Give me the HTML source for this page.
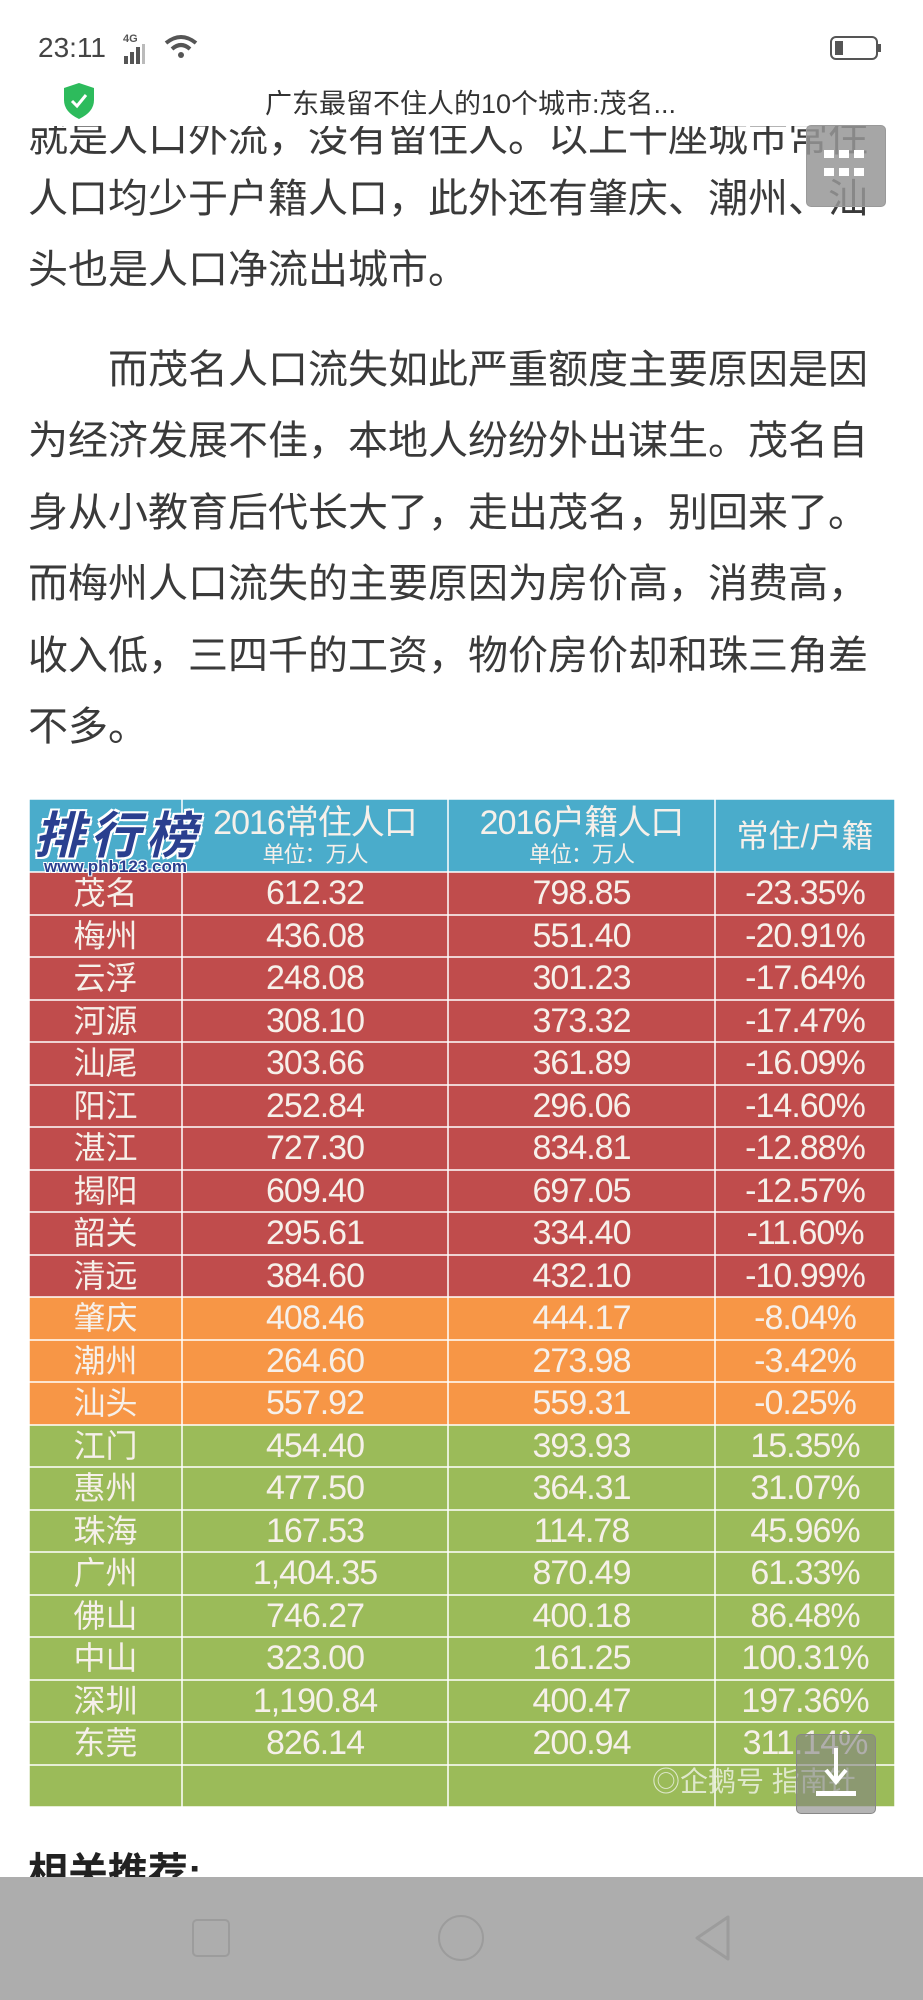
<!DOCTYPE html>
<html><head><meta charset="utf-8"><style>
*{margin:0;padding:0;box-sizing:border-box}
body{width:923px;height:2000px;background:#fff;position:relative;overflow:hidden;font-family:"Liberation Sans","Noto Sans CJK SC",sans-serif}
.a{position:absolute;white-space:nowrap}
.p{left:28px;font-size:40px;color:#3a3a3a;line-height:72px;height:72px}
table{position:absolute;left:28px;top:798px;width:866px;border-collapse:collapse;table-layout:fixed}
td{border:2px solid rgba(255,255,255,0.75);color:#f6f0ea;text-align:center;font-size:34px;height:42.5px;padding:0;line-height:40px;font-family:"Liberation Sans","Noto Sans CJK SC",sans-serif;letter-spacing:-1px}
td.c{font-size:32px;letter-spacing:0}
tr.h td{background:#4aaccb;height:73px;line-height:30px}
tr.r td{background:#c04c4c}
tr.o td{background:#f79646}
tr.g td{background:#9bbb59}
</style></head><body>
<!-- paragraph text (behind header) -->
<div class="a p" style="top:102px">就是人口外流，没有留住人。以上十座城市常住</div>
<div class="a p" style="top:163px">人口均少于户籍人口，此外还有肇庆、潮州、汕</div>
<div class="a p" style="top:234px">头也是人口净流出城市。</div>
<div class="a p" style="top:334px;left:108px">而茂名人口流失如此严重额度主要原因是因</div>
<div class="a p" style="top:405px">为经济发展不佳，本地人纷纷外出谋生。茂名自</div>
<div class="a p" style="top:477px">身从小教育后代长大了，走出茂名，别回来了。</div>
<div class="a p" style="top:548px">而梅州人口流失的主要原因为房价高，消费高，</div>
<div class="a p" style="top:620px">收入低，三四千的工资，物价房价却和珠三角差</div>
<div class="a p" style="top:691px">不多。</div>
<!-- header -->
<div class="a" style="left:0;top:0;width:923px;height:126px;background:#fff"></div>
<div class="a" style="left:38px;top:32px;font-size:28px;color:#444">23:11</div>
<div class="a" style="left:123px;top:33px;font-size:11px;color:#555;font-weight:bold">4G</div>
<svg class="a" style="left:122px;top:44px" width="36" height="22"><rect x="2" y="12" width="4" height="8" fill="#555"/><rect x="8" y="8" width="4" height="12" fill="#555"/><rect x="14" y="3" width="4" height="17" fill="#555"/><rect x="20" y="0" width="3" height="20" fill="#bbb"/></svg>
<svg class="a" style="left:164px;top:34px" width="34" height="26"><path d="M2 9 Q17 -3 32 9" stroke="#555" stroke-width="4" fill="none"/><path d="M8 15 Q17 7 26 15" stroke="#555" stroke-width="4" fill="none"/><circle cx="17" cy="21" r="3" fill="#555"/></svg>
<svg class="a" style="left:830px;top:36px" width="52" height="24"><rect x="1" y="1" width="46" height="22" rx="5" fill="none" stroke="#555" stroke-width="2"/><rect x="5" y="5" width="8" height="14" fill="#555"/><rect x="48" y="8" width="3" height="8" fill="#555"/></svg>
<svg class="a" style="left:62px;top:82px" width="34" height="38"><path d="M17 1 L32 6 L32 18 Q32 30 17 37 Q2 30 2 18 L2 6 Z" fill="#2dbb5c"/><path d="M10 19 L15 24 L24 13" stroke="#fff" stroke-width="3" fill="none"/></svg>
<div class="a" style="left:265px;top:82px;font-size:27px;color:#333">广东最留不住人的10个城市:茂名...</div>
<!-- float button -->
<div class="a" style="left:806px;top:125px;width:80px;height:82px;background:rgba(150,150,150,0.85);border-radius:5px;border:1px solid #999"></div>
<svg class="a" style="left:824px;top:150px" width="44" height="32"><g fill="#fff"><rect x="0" y="0" width="10" height="8"/><rect x="15" y="0" width="10" height="8"/><rect x="30" y="0" width="10" height="8"/><rect x="0" y="18" width="10" height="8"/><rect x="15" y="18" width="10" height="8"/><rect x="30" y="18" width="10" height="8"/></g></svg>
<!-- table -->
<table>
<colgroup><col style="width:153px"><col style="width:266px"><col style="width:267px"><col style="width:180px"></colgroup>
<tr class="h"><td></td><td><div style="font-size:34px;line-height:38px">2016常住人口</div><div style="font-size:22px;line-height:26px">单位：万人</div></td><td><div style="font-size:34px;line-height:38px">2016户籍人口</div><div style="font-size:22px;line-height:26px">单位：万人</div></td><td style="font-size:32px;letter-spacing:0">常住/户籍</td></tr>
<tr class="r"><td class="c">茂名</td><td>612.32</td><td>798.85</td><td>-23.35%</td></tr>
<tr class="r"><td class="c">梅州</td><td>436.08</td><td>551.40</td><td>-20.91%</td></tr>
<tr class="r"><td class="c">云浮</td><td>248.08</td><td>301.23</td><td>-17.64%</td></tr>
<tr class="r"><td class="c">河源</td><td>308.10</td><td>373.32</td><td>-17.47%</td></tr>
<tr class="r"><td class="c">汕尾</td><td>303.66</td><td>361.89</td><td>-16.09%</td></tr>
<tr class="r"><td class="c">阳江</td><td>252.84</td><td>296.06</td><td>-14.60%</td></tr>
<tr class="r"><td class="c">湛江</td><td>727.30</td><td>834.81</td><td>-12.88%</td></tr>
<tr class="r"><td class="c">揭阳</td><td>609.40</td><td>697.05</td><td>-12.57%</td></tr>
<tr class="r"><td class="c">韶关</td><td>295.61</td><td>334.40</td><td>-11.60%</td></tr>
<tr class="r"><td class="c">清远</td><td>384.60</td><td>432.10</td><td>-10.99%</td></tr>
<tr class="o"><td class="c">肇庆</td><td>408.46</td><td>444.17</td><td>-8.04%</td></tr>
<tr class="o"><td class="c">潮州</td><td>264.60</td><td>273.98</td><td>-3.42%</td></tr>
<tr class="o"><td class="c">汕头</td><td>557.92</td><td>559.31</td><td>-0.25%</td></tr>
<tr class="g"><td class="c">江门</td><td>454.40</td><td>393.93</td><td>15.35%</td></tr>
<tr class="g"><td class="c">惠州</td><td>477.50</td><td>364.31</td><td>31.07%</td></tr>
<tr class="g"><td class="c">珠海</td><td>167.53</td><td>114.78</td><td>45.96%</td></tr>
<tr class="g"><td class="c">广州</td><td>1,404.35</td><td>870.49</td><td>61.33%</td></tr>
<tr class="g"><td class="c">佛山</td><td>746.27</td><td>400.18</td><td>86.48%</td></tr>
<tr class="g"><td class="c">中山</td><td>323.00</td><td>161.25</td><td>100.31%</td></tr>
<tr class="g"><td class="c">深圳</td><td>1,190.84</td><td>400.47</td><td>197.36%</td></tr>
<tr class="g"><td class="c">东莞</td><td>826.14</td><td>200.94</td><td>311.14%</td></tr>
<tr class="g"><td></td><td></td><td></td><td></td></tr>
</table>
<!-- logo overlay -->
<div class="a" style="left:34px;top:796px;font-size:50px;font-weight:bold;color:#2a3f8f;letter-spacing:6px;text-shadow:2px 2px 0 #fff,-2px -2px 0 #fff,2px -2px 0 #fff,-2px 2px 0 #fff;font-style:italic">排行榜</div>
<div class="a" style="left:44px;top:857px;font-size:17px;font-weight:bold;color:#2a3f8f;text-shadow:1px 1px 0 #fff,-1px -1px 0 #fff,1px -1px 0 #fff,-1px 1px 0 #fff">www.phb123.com</div>
<!-- watermark -->
<div class="a" style="left:652px;top:1760px;font-size:28px;color:rgba(235,240,225,0.85)">◎企鹅号 指南针</div>
<div class="a" style="left:796px;top:1734px;width:80px;height:80px;background:rgba(130,130,130,0.6);border-radius:5px;border:1px solid #888"></div>
<svg class="a" style="left:810px;top:1746px" width="52" height="56"><path d="M26 2 V34" stroke="#fff" stroke-width="4"/><path d="M16 24 L26 36 L36 24" stroke="#fff" stroke-width="4" fill="none"/><rect x="6" y="45" width="40" height="5" fill="#fff"/></svg>
<div class="a" style="left:28px;top:1840px;font-size:40px;font-weight:bold;color:#222">相关推荐:</div>
<!-- nav bar -->
<div class="a" style="left:0;top:1877px;width:923px;height:123px;background:#adadad"></div>
<div class="a" style="left:192px;top:1919px;width:38px;height:38px;border:2px solid #9c9c9c;border-radius:5px"></div>
<div class="a" style="left:438px;top:1915px;width:46px;height:46px;border:2px solid #9c9c9c;border-radius:50%"></div>
<svg class="a" style="left:692px;top:1914px" width="40" height="48"><path d="M36 3 L5 24 L36 45 Z" fill="none" stroke="#9c9c9c" stroke-width="3" stroke-linejoin="round"/></svg>
</body></html>
